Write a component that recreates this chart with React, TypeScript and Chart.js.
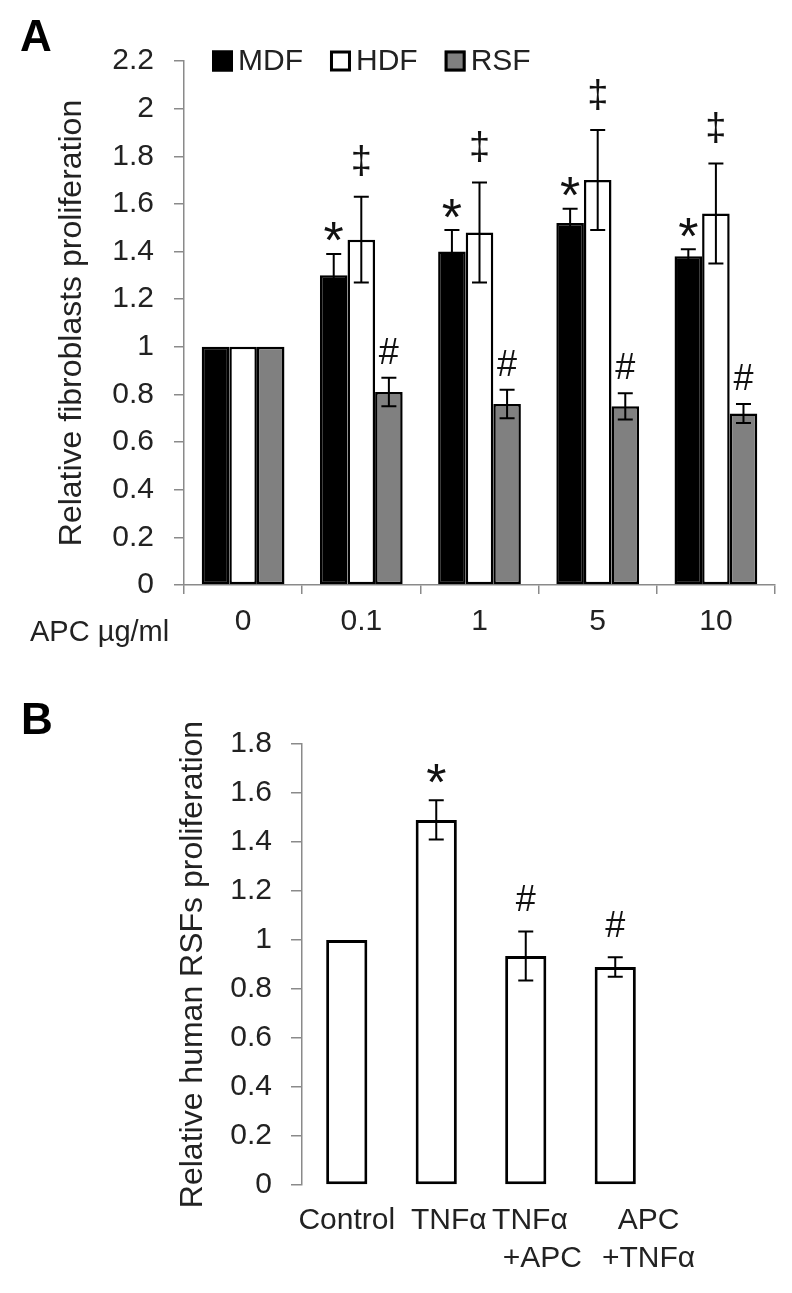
import React, { useEffect, useRef } from "react";
import { Chart, registerables } from "chart.js";

Chart.register(...registerables);

// ---------- Panel A data ----------
const doseLabels = ["0", "0.1", "1", "5", "10"];
const mdfValues = [1, 1.3, 1.4, 1.52, 1.38];
const mdfErrors = [0, 0.09, 0.09, 0.06, 0.03];
const hdfValues = [1, 1.45, 1.48, 1.7, 1.56];
const hdfErrors = [0, 0.18, 0.21, 0.21, 0.21];
const rsfValues = [1, 0.81, 0.76, 0.75, 0.72];
const rsfErrors = [0, 0.06, 0.06, 0.055, 0.04];
const mdfMarks = ["", "*", "*", "*", "*"];
const hdfMarks = ["", "‡", "‡", "‡", "‡"];
const rsfMarks = ["", "#", "#", "#", "#"];
const yTicksA = ["0", "0.2", "0.4", "0.6", "0.8", "1", "1.2", "1.4", "1.6", "1.8", "2", "2.2"];

// ---------- Panel B data ----------
// (labels keep the original's uneven spacing)
const treatmentLabels = [["Control"], ["   TNFα"], [" TNFα", "    +APC"], ["        APC", "        +TNFα"]];
const treatValues = [1, 1.49, 0.935, 0.89];
const treatErrors = [0, 0.08, 0.1, 0.04];
const treatMarks = ["", "*", "#", "#"];
const yTicksB = ["0", "0.2", "0.4", "0.6", "0.8", "1", "1.2", "1.4", "1.6", "1.8"];

const FONT = "'Liberation Sans', Arial, sans-serif";
const TEXT = "#222222";
const AXIS = "#8a8a8a";

const markStyle: Record<string, { size: number; gap: number }> = {
  "*": { size: 52, gap: 22 },
  "‡": { size: 38, gap: 36 },
  "#": { size: 36, gap: 27 },
};

const errorBarPlugin = {
  id: "errorBars",
  afterDatasetsDraw(chart: any, _args: any, opts: any) {
    const ctx = chart.ctx;
    const yScale = chart.scales.y;
    chart.data.datasets.forEach((ds: any, i: number) => {
      const meta = chart.getDatasetMeta(i);
      meta.data.forEach((bar: any, j: number) => {
        const v = ds.data[j];
        const e = ds.errors ? ds.errors[j] : 0;
        const x = bar.x;
        const yTop = yScale.getPixelForValue(v + e);
        if (e > 0) {
          const yBot = yScale.getPixelForValue(v - e);
          const cw = opts.capWidth / 2;
          ctx.save();
          ctx.strokeStyle = "#000";
          ctx.lineWidth = opts.lineWidth;
          ctx.beginPath();
          ctx.moveTo(x, yTop);
          ctx.lineTo(x, yBot);
          ctx.moveTo(x - cw, yTop);
          ctx.lineTo(x + cw, yTop);
          ctx.moveTo(x - cw, yBot);
          ctx.lineTo(x + cw, yBot);
          ctx.stroke();
          ctx.restore();
        }
        const mark = ds.marks ? ds.marks[j] : "";
        if (mark) {
          const st = markStyle[mark];
          const gap = (opts.gaps && opts.gaps[mark]) || st.gap;
          ctx.save();
          ctx.fillStyle = "#111";
          ctx.font = `${st.size}px ${FONT}`;
          ctx.textAlign = "center";
          ctx.textBaseline = "alphabetic";
          const m = ctx.measureText(mark);
          const centerY = yTop - gap;
          const baseline = centerY + (m.actualBoundingBoxAscent - m.actualBoundingBoxDescent) / 2;
          ctx.fillText(mark, x, baseline);
          ctx.restore();
        }
      });
    });
  },
};

const extrasPlugin = {
  id: "extras",
  afterDraw(chart: any, _args: any, opts: any) {
    const ctx = chart.ctx;
    if (opts.panel) {
      ctx.save();
      ctx.fillStyle = "#000";
      ctx.font = `bold 44px ${FONT}`;
      ctx.textAlign = "left";
      ctx.textBaseline = "middle";
      ctx.fillText(opts.panel.text, opts.panel.x, opts.panel.y);
      ctx.restore();
    }
    if (opts.caption) {
      ctx.save();
      ctx.fillStyle = TEXT;
      ctx.font = `29px ${FONT}`;
      ctx.textAlign = "left";
      ctx.textBaseline = "middle";
      ctx.fillText(opts.caption.text, opts.caption.x, opts.caption.y);
      ctx.restore();
    }
    if (opts.legend) {
      const { x, y, box, gapText, gapItem, size } = opts.legend;
      let cx = x;
      ctx.save();
      ctx.font = `${size}px ${FONT}`;
      ctx.textBaseline = "middle";
      ctx.textAlign = "left";
      chart.data.datasets.forEach((ds: any) => {
        ctx.fillStyle = ds.backgroundColor;
        ctx.fillRect(cx, y - box / 2, box, box);
        ctx.strokeStyle = "#000";
        ctx.lineWidth = 3;
        ctx.strokeRect(cx + 1.5, y - box / 2 + 1.5, box - 3, box - 3);
        ctx.fillStyle = TEXT;
        ctx.fillText(ds.label, cx + box + gapText, y + 1);
        cx += box + gapText + ctx.measureText(ds.label).width + gapItem;
      });
      ctx.restore();
    }
  },
};

function PanelA() {
  const ref = useRef<HTMLCanvasElement>(null);
  useEffect(() => {
    if (!ref.current) return;
    const chart = new Chart(ref.current, {
      type: "bar",
      data: {
        labels: doseLabels,
        datasets: [
          { label: "MDF", data: mdfValues, errors: mdfErrors, marks: mdfMarks, backgroundColor: "#000000", borderColor: "#000000", borderWidth: 2.5, borderSkipped: false } as any,
          { label: "HDF", data: hdfValues, errors: hdfErrors, marks: hdfMarks, backgroundColor: "#ffffff", borderColor: "#000000", borderWidth: 2.5, borderSkipped: false } as any,
          { label: "RSF", data: rsfValues, errors: rsfErrors, marks: rsfMarks, backgroundColor: "#808080", borderColor: "#000000", borderWidth: 2.5, borderSkipped: false } as any,
        ],
      },
      options: {
        animation: false,
        responsive: false,
        maintainAspectRatio: false,
        layout: { padding: { top: 61, right: 17, left: 0, bottom: 0 } },
        datasets: { bar: { categoryPercentage: 0.7, barPercentage: 1.0 } },
        plugins: {
          legend: { display: false },
          tooltip: { enabled: false },
          errorBars: { capWidth: 15, lineWidth: 2 },
          extras: {
            panel: { text: "A", x: 20, y: 39 },
            caption: { text: "APC µg/ml", x: 30, y: 633 },
            legend: { x: 212, y: 61, box: 21, gapText: 5, gapItem: 27, size: 30 },
          },
        } as any,
        scales: {
          x: {
            type: "category",
            offset: true,
            grid: { offset: true, drawOnChartArea: false, drawTicks: true, tickLength: 9, color: AXIS, lineWidth: 1.5 },
            border: { display: true, color: AXIS, width: 1.5 },
            ticks: { font: { family: FONT, size: 30 }, color: TEXT, padding: 10 },
            afterFit: (s: any) => { s.height = 75; },
          },
          y: {
            min: 0,
            max: 2.2,
            ticks: {
              stepSize: 0.2,
              font: { family: FONT, size: 30 },
              color: TEXT,
              padding: 20,
              callback: (v: any) => yTicksA[Math.round(Number(v) / 0.2)],
            },
            grid: { drawOnChartArea: false, drawTicks: true, tickLength: 10, color: AXIS, lineWidth: 1.5 },
            border: { display: true, color: AXIS, width: 1.5 },
            title: { display: true, text: "Relative fibroblasts proliferation", font: { family: FONT, size: 32 }, color: TEXT, padding: { top: 53, bottom: 0 } },
            afterFit: (s: any) => { s.width = 184; },
          },
        },
      },
      plugins: [errorBarPlugin, extrasPlugin],
    } as any);
    return () => chart.destroy();
  }, []);
  return <canvas ref={ref} width={792} height={660} style={{ display: "block", width: 792, height: 660 }} />;
}

function PanelB() {
  const ref = useRef<HTMLCanvasElement>(null);
  useEffect(() => {
    if (!ref.current) return;
    const chart = new Chart(ref.current, {
      type: "bar",
      data: {
        labels: treatmentLabels,
        datasets: [
          { label: "RSF", data: treatValues, errors: treatErrors, marks: treatMarks, backgroundColor: "#ffffff", borderColor: "#000000", borderWidth: 3, borderSkipped: false } as any,
        ],
      },
      options: {
        animation: false,
        responsive: false,
        maintainAspectRatio: false,
        layout: { padding: { top: 84, right: 132, left: 0, bottom: 0 } },
        datasets: { bar: { categoryPercentage: 1.0, barPercentage: 0.46 } },
        plugins: {
          legend: { display: false },
          tooltip: { enabled: false },
          errorBars: { capWidth: 15, lineWidth: 2, gaps: { "*": 27, "#": 33 } },
          extras: {
            panel: { text: "B", x: 21, y: 62 },
          },
        } as any,
        scales: {
          x: {
            type: "category",
            grid: { display: false, drawTicks: false },
            border: { display: false },
            ticks: { font: { family: FONT, size: 30, lineHeight: 1.27 }, color: TEXT, padding: 17, maxRotation: 0, autoSkip: false },
            afterFit: (s: any) => { s.height = 108; },
          },
          y: {
            min: 0,
            max: 1.8,
            ticks: {
              stepSize: 0.2,
              font: { family: FONT, size: 30 },
              color: TEXT,
              padding: 19,
              callback: (v: any) => yTicksB[Math.round(Number(v) / 0.2)],
            },
            grid: { drawOnChartArea: false, drawTicks: true, tickLength: 11, color: AXIS, lineWidth: 1.5 },
            border: { display: true, color: AXIS, width: 1.5 },
            title: { display: true, text: "Relative human RSFs proliferation", font: { family: FONT, size: 32 }, color: TEXT, padding: { top: 174, bottom: 0 } },
            afterFit: (s: any) => { s.width = 302; },
          },
        },
      },
      plugins: [errorBarPlugin, extrasPlugin],
    } as any);
    return () => chart.destroy();
  }, []);
  return <canvas ref={ref} width={792} height={633} style={{ display: "block", width: 792, height: 633 }} />;
}

export default function App() {
  return (
    <div style={{ position: "absolute", left: 0, top: 0, width: 792, height: 1293, background: "#fff" }}>
      <PanelA />
      <PanelB />
    </div>
  );
}
